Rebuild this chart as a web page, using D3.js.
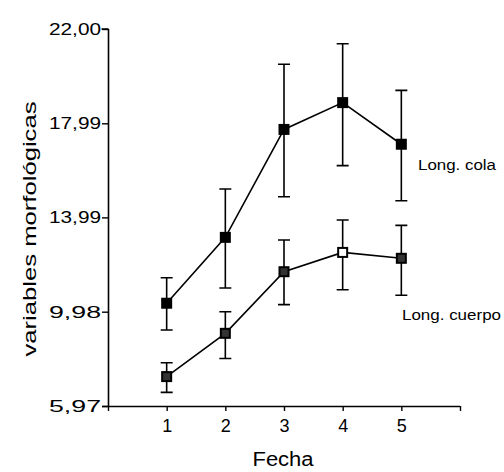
<!DOCTYPE html>
<html>
<head>
<meta charset="utf-8">
<script src="https://cdn.jsdelivr.net/npm/d3@7"></script>
<style>
  body { margin: 0; background: #fff; }
  text { font-family: "Liberation Sans", Arial, sans-serif; fill: #000; }
</style>
</head>
<body>
<svg width="504" height="472"></svg>
<script>
// fechas
let fechas = [1, 2, 3, 4, 5];
let xTicks = [0, 1, 2, 3, 4, 5, 6];
let yTicks = [5.97, 9.98, 13.99, 17.99, 22.00];

// Long. cola
let colaMedia = [10.34, 13.14, 17.73, 18.87, 17.10];
let colaSup   = [11.42, 15.20, 20.50, 21.37, 19.39];
let colaInf   = [9.20, 10.99, 14.87, 16.19, 14.70];

// Long. cuerpo
let cuerpoMedia = [7.22, 9.06, 11.68, 12.50, 12.25];
let cuerpoSup   = [7.81, 9.98, 13.03, 13.88, 13.65];
let cuerpoInf   = [6.55, 7.99, 10.28, 10.91, 10.68];

let svg = d3.select("svg");

let x = d3.scaleLinear().domain([0, 6]).range([108, 460]);
let y = d3.scaleLinear().domain([5.97, 22.00]).range([406, 29]);

// ejes
let xAxis = d3.axisBottom(x).tickValues(xTicks)
  .tickFormat(d => (d >= 1 && d <= 5) ? d : "")
  .tickSize(5).tickPadding(8);
let yAxis = d3.axisLeft(y).tickValues(yTicks)
  .tickFormat(d => d3.format(".2f")(d).replace(".", ","))
  .tickSize(6).tickPadding(1);

let gx = svg.append("g").attr("transform", "translate(0,406)").call(xAxis);
let gy = svg.append("g").attr("transform", "translate(108,0)").call(yAxis);

[gx, gy].forEach(g => {
  g.select(".domain").attr("stroke", "#000").attr("stroke-width", 1.6);
  g.selectAll(".tick line").attr("stroke", "#000").attr("stroke-width", 1.4);
  g.selectAll("text").style("font-size", "18px").attr("fill", "#000");
});
gy.selectAll("text").attr("textLength", 52).attr("lengthAdjust", "spacingAndGlyphs")
  .style("font-size", "17px");
gx.select(".domain").attr("d", "M102,0.5H460");
gy.select(".domain").attr("d", "M0.5,29H-6.5M0.5,29V406");

function serie(media, sup, inf, cls) {
  let datos = fechas.map((f, i) => ({f: f, m: media[i], s: sup[i], n: inf[i], i: i}));
  let g = svg.append("g").attr("class", cls);

  // barras de error
  g.selectAll(".err").data(datos).enter().append("path")
    .attr("class", "err")
    .attr("fill", "none").attr("stroke", "#000").attr("stroke-width", 1.6)
    .attr("d", d => {
      let cx = x(d.f);
      return `M${cx - 6},${y(d.s)}H${cx + 6}M${cx},${y(d.s)}V${y(d.n)}M${cx - 6},${y(d.n)}H${cx + 6}`;
    });

  // linea
  let line = d3.line().x(d => x(d.f)).y(d => y(d.m));
  g.append("path").datum(datos)
    .attr("fill", "none").attr("stroke", "#000").attr("stroke-width", 1.6)
    .attr("d", line);

  return {g: g, datos: datos};
}

let cola = serie(colaMedia, colaSup, colaInf, "cola");
let cuerpo = serie(cuerpoMedia, cuerpoSup, cuerpoInf, "cuerpo");

const S = 11;
cola.g.selectAll("rect").data(cola.datos).enter().append("rect")
  .attr("x", d => x(d.f) - S / 2).attr("y", d => y(d.m) - S / 2)
  .attr("width", S).attr("height", S)
  .attr("fill", "#000");

cuerpo.g.selectAll("rect").data(cuerpo.datos).enter().append("rect")
  .attr("x", d => x(d.f) - (S - 2) / 2).attr("y", d => y(d.m) - (S - 2) / 2)
  .attr("width", S - 2).attr("height", S - 2)
  .attr("fill", d => d.i === 3 ? "#fff" : "#333")
  .attr("stroke", "#000").attr("stroke-width", 2);

// etiquetas de serie
svg.append("text").attr("x", 418).attr("y", 170)
  .style("font-size", "14px")
  .attr("textLength", 78).attr("lengthAdjust", "spacingAndGlyphs")
  .text("Long. cola");
svg.append("text").attr("x", 402).attr("y", 320)
  .style("font-size", "14px")
  .attr("textLength", 99).attr("lengthAdjust", "spacingAndGlyphs")
  .text("Long. cuerpo");

// titulos de ejes
svg.append("text")
  .attr("transform", "translate(36,229) rotate(-90)")
  .attr("text-anchor", "middle")
  .style("font-size", "19px")
  .attr("textLength", 255).attr("lengthAdjust", "spacingAndGlyphs")
  .text("variables morfológicas");

svg.append("text").attr("x", 283).attr("y", 466)
  .attr("text-anchor", "middle")
  .style("font-size", "20px")
  .attr("textLength", 61).attr("lengthAdjust", "spacingAndGlyphs")
  .text("Fecha");
</script>
</body>
</html>
